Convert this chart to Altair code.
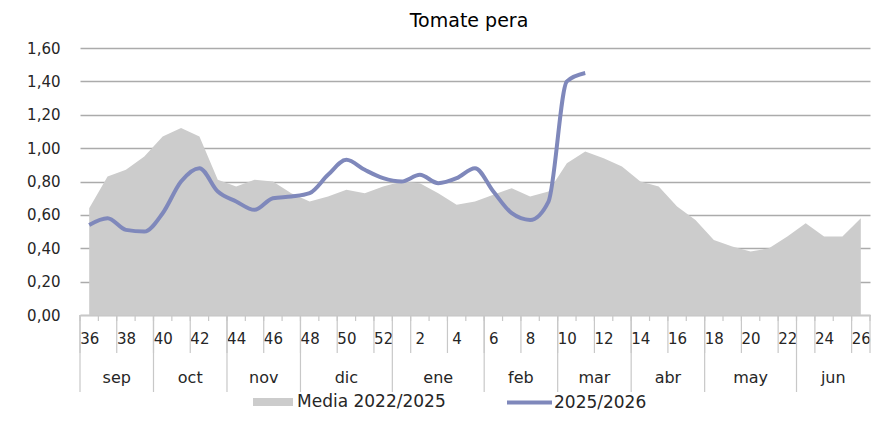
import altair as alt
import pandas as pd

# ---- data ----
weeks = list(range(36, 53)) + list(range(1, 27))
media = [0.64, 0.83, 0.87, 0.95, 1.07, 1.12, 1.07, 0.81, 0.77, 0.81,
         0.80, 0.73, 0.68, 0.71, 0.75, 0.73, 0.77, 0.80, 0.79, 0.73,
         0.66, 0.68, 0.72, 0.76, 0.71, 0.74, 0.91, 0.98, 0.94, 0.89,
         0.80, 0.77, 0.65, 0.57, 0.45, 0.41, 0.38, 0.40, 0.47, 0.55,
         0.47, 0.47, 0.58]
actual = [0.54, 0.58, 0.51, 0.50, 0.61, 0.80, 0.88, 0.74, 0.68, 0.63,
          0.70, 0.71, 0.73, 0.84, 0.93, 0.87, 0.82, 0.80, 0.84, 0.79,
          0.82, 0.88, 0.74, 0.61, 0.57, 0.68, 1.40, 1.45]
months = ["sep", "oct", "nov", "dic", "ene", "feb", "mar", "abr", "may", "jun"]
month_weeks = [4, 4, 4, 5, 5, 4, 4, 4, 5, 4]
series_names = ["Media 2022/2025", "2025/2026"]
series_colors = ["#cccccc", "#7f88bb"]
y_ticks = [0, 0.2, 0.4, 0.6, 0.8, 1.0, 1.2, 1.4, 1.6]
title = "Tomate pera"

FONT = "DejaVu Sans"
W, H = 790, 267
n = len(weeks)
idx = list(range(n))

df_area = pd.DataFrame({"i": idx, "v": media, "s": series_names[0]})
df_line = pd.DataFrame({"i": idx[:len(actual)], "v": actual, "s": series_names[1]})

starts = []
acc = 0
for c in month_weeks:
    starts.append(acc)
    acc += c
df_months = pd.DataFrame({
    "m": months,
    "c": [s + c / 2 - 0.5 for s, c in zip(starts, month_weeks)],
    "b": [s - 0.5 for s in starts],
})
df_short = pd.DataFrame({"b": [i - 0.5 for i in range(n + 1)]})
df_long = pd.DataFrame({"b": [i - 0.5 for i in range(0, n + 1, 2)] + [n - 0.5]})

xscale = alt.Scale(domain=[-0.5, n - 0.5], nice=False, zero=False)
yscale = alt.Scale(domain=[0, 1.6], nice=False, zero=True)

label_arr = "[" + ",".join(f"'{w}'" for w in weeks) + "]"
x_vals = idx[::2]
xaxis = alt.Axis(values=x_vals, tickCount=len(x_vals) + 5,
                 labelExpr=f"{label_arr}[datum.value]",
                 ticks=False, grid=False, domainColor="#c8c8c8", domainWidth=1.5,
                 labelFont=FONT, labelFontSize=15, labelColor="#262626",
                 labelPadding=16, labelFlush=False, labelOverlap=False, title=None)
yaxis = alt.Axis(values=y_ticks, tickCount=len(y_ticks) + 5,
                 labelExpr="replace(format(datum.value, '.2f'), '.', ',')",
                 ticks=False, domain=False, grid=True, gridColor="#ababab", gridWidth=1.3,
                 labelFont=FONT, labelFontSize=15, labelColor="#262626",
                 labelPadding=20, labelOverlap=False, title=None)

area_legend = alt.Legend(
    orient="none", legendX=173, legendY=334, direction="horizontal", title=None,
    labelFont=FONT, labelFontSize=17, labelColor="#262626",
    symbolType="M-1,-0.2H1V0.2H-1Z", symbolSize=1600, symbolStrokeWidth=0,
    symbolOpacity=1, labelOffset=4,
)
line_legend = alt.Legend(
    orient="none", legendX=425, legendY=330, direction="horizontal", title=None,
    labelFont=FONT, labelFontSize=17, labelColor="#262626",
    symbolType="stroke", symbolSize=2025, symbolStrokeWidth=4,
    symbolOpacity=1, labelOffset=0,
)

area = alt.Chart(df_area).mark_area(opacity=1).encode(
    x=alt.X("i:Q", scale=xscale, axis=xaxis),
    y=alt.Y("v:Q", scale=yscale, axis=yaxis),
    fill=alt.Fill("s:N", scale=alt.Scale(domain=series_names[:1], range=series_colors[:1]),
                  legend=area_legend),
)
line = alt.Chart(df_line).mark_line(strokeWidth=4, interpolate="monotone").encode(
    x=alt.X("i:Q", scale=xscale, axis=xaxis),
    y=alt.Y("v:Q", scale=yscale, axis=yaxis),
    stroke=alt.Stroke("s:N", scale=alt.Scale(domain=series_names[1:], range=series_colors[1:]),
                      legend=line_legend),
)
tick_color = "#c8c8c8"
short_ticks = alt.Chart(df_short).mark_rule(color=tick_color, strokeWidth=1.2).encode(
    x=alt.X("b:Q", scale=xscale, axis=xaxis), y=alt.value(H), y2=alt.value(H + 6))
long_ticks = alt.Chart(df_long).mark_rule(color=tick_color, strokeWidth=1.2).encode(
    x=alt.X("b:Q", scale=xscale, axis=xaxis), y=alt.value(H), y2=alt.value(H + 38))
month_lines = alt.Chart(df_months).mark_rule(color=tick_color, strokeWidth=1.2).encode(
    x=alt.X("b:Q", scale=xscale, axis=xaxis), y=alt.value(H), y2=alt.value(H + 77))
month_text = alt.Chart(df_months).mark_text(
    font=FONT, fontSize=16, color="#262626", baseline="alphabetic", align="center").encode(
    x=alt.X("c:Q", scale=xscale, axis=xaxis), y=alt.value(H + 68), text="m:N")

chart = alt.layer(area, line, short_ticks, long_ticks, month_lines, month_text).properties(
    width=W, height=H,
    title=alt.TitleParams(title, font=FONT, fontSize=19, fontWeight="normal",
                          color="#000000", anchor="middle", offset=10, dx=-6),
    autosize=alt.AutoSizeParams(type="none"),
    padding={"left": 72, "top": 40, "right": 3, "bottom": 104},
).configure_view(stroke=None)

chart.save("out.html", embed_options={"renderer": "svg", "actions": False})
